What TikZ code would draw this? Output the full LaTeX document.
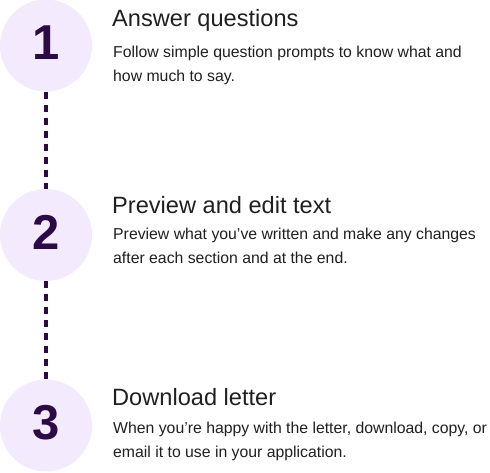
\documentclass[tikz,border=0pt]{standalone}
\usepackage{fontspec}
\setmainfont{Liberation Sans}
\definecolor{circfill}{HTML}{F3EBFD}
\definecolor{deep}{HTML}{2B0A45}
\definecolor{ink}{HTML}{1F1F1F}
\begin{document}
\begin{tikzpicture}[x=1pt,y=-1pt,
  stepcircle/.style={circle,fill=circfill,minimum size=92pt,inner sep=0pt,
    text=deep,font=\fontsize{49}{49}\selectfont\bfseries,text depth=6pt},
  steptitle/.style={anchor=base west,inner sep=0pt,text=ink,font=\fontsize{23.6}{26}\selectfont},
  stepbody/.style={anchor=north west,inner sep=0pt,align=left,text=ink,font=\fontsize{15.8}{24}\selectfont},
  dashline/.style={draw=deep,line width=4pt,dash pattern=on 7pt off 6pt}]
\useasboundingbox (0,0) rectangle (490,472);
\node[stepcircle] (c1) at (46,45.5) {1};
\node[stepcircle] (c2) at (46,235) {2};
\node[stepcircle] (c3) at (46,425.5) {3};
\draw[dashline] (c1.south) -- (c2.north);
\draw[dashline] (c2.south) -- (c3.north);
\node[steptitle] (t1) at (112,26) {Answer questions};
\node[stepbody] (b1) at (113,45.5) {Follow simple question prompts to know what and\\how much to say.};
\node[steptitle] (t2) at (112,213) {Preview and edit text};
\node[stepbody] (b2) at (113,227.5) {Preview what you’ve written and make any changes\\after each section and at the end.};
\node[steptitle] (t3) at (112,405) {Download letter};
\node[stepbody] (b3) at (113,421.8) {When you’re happy with the letter, download, copy, or\\email it to use in your application.};
\end{tikzpicture}
\end{document}
